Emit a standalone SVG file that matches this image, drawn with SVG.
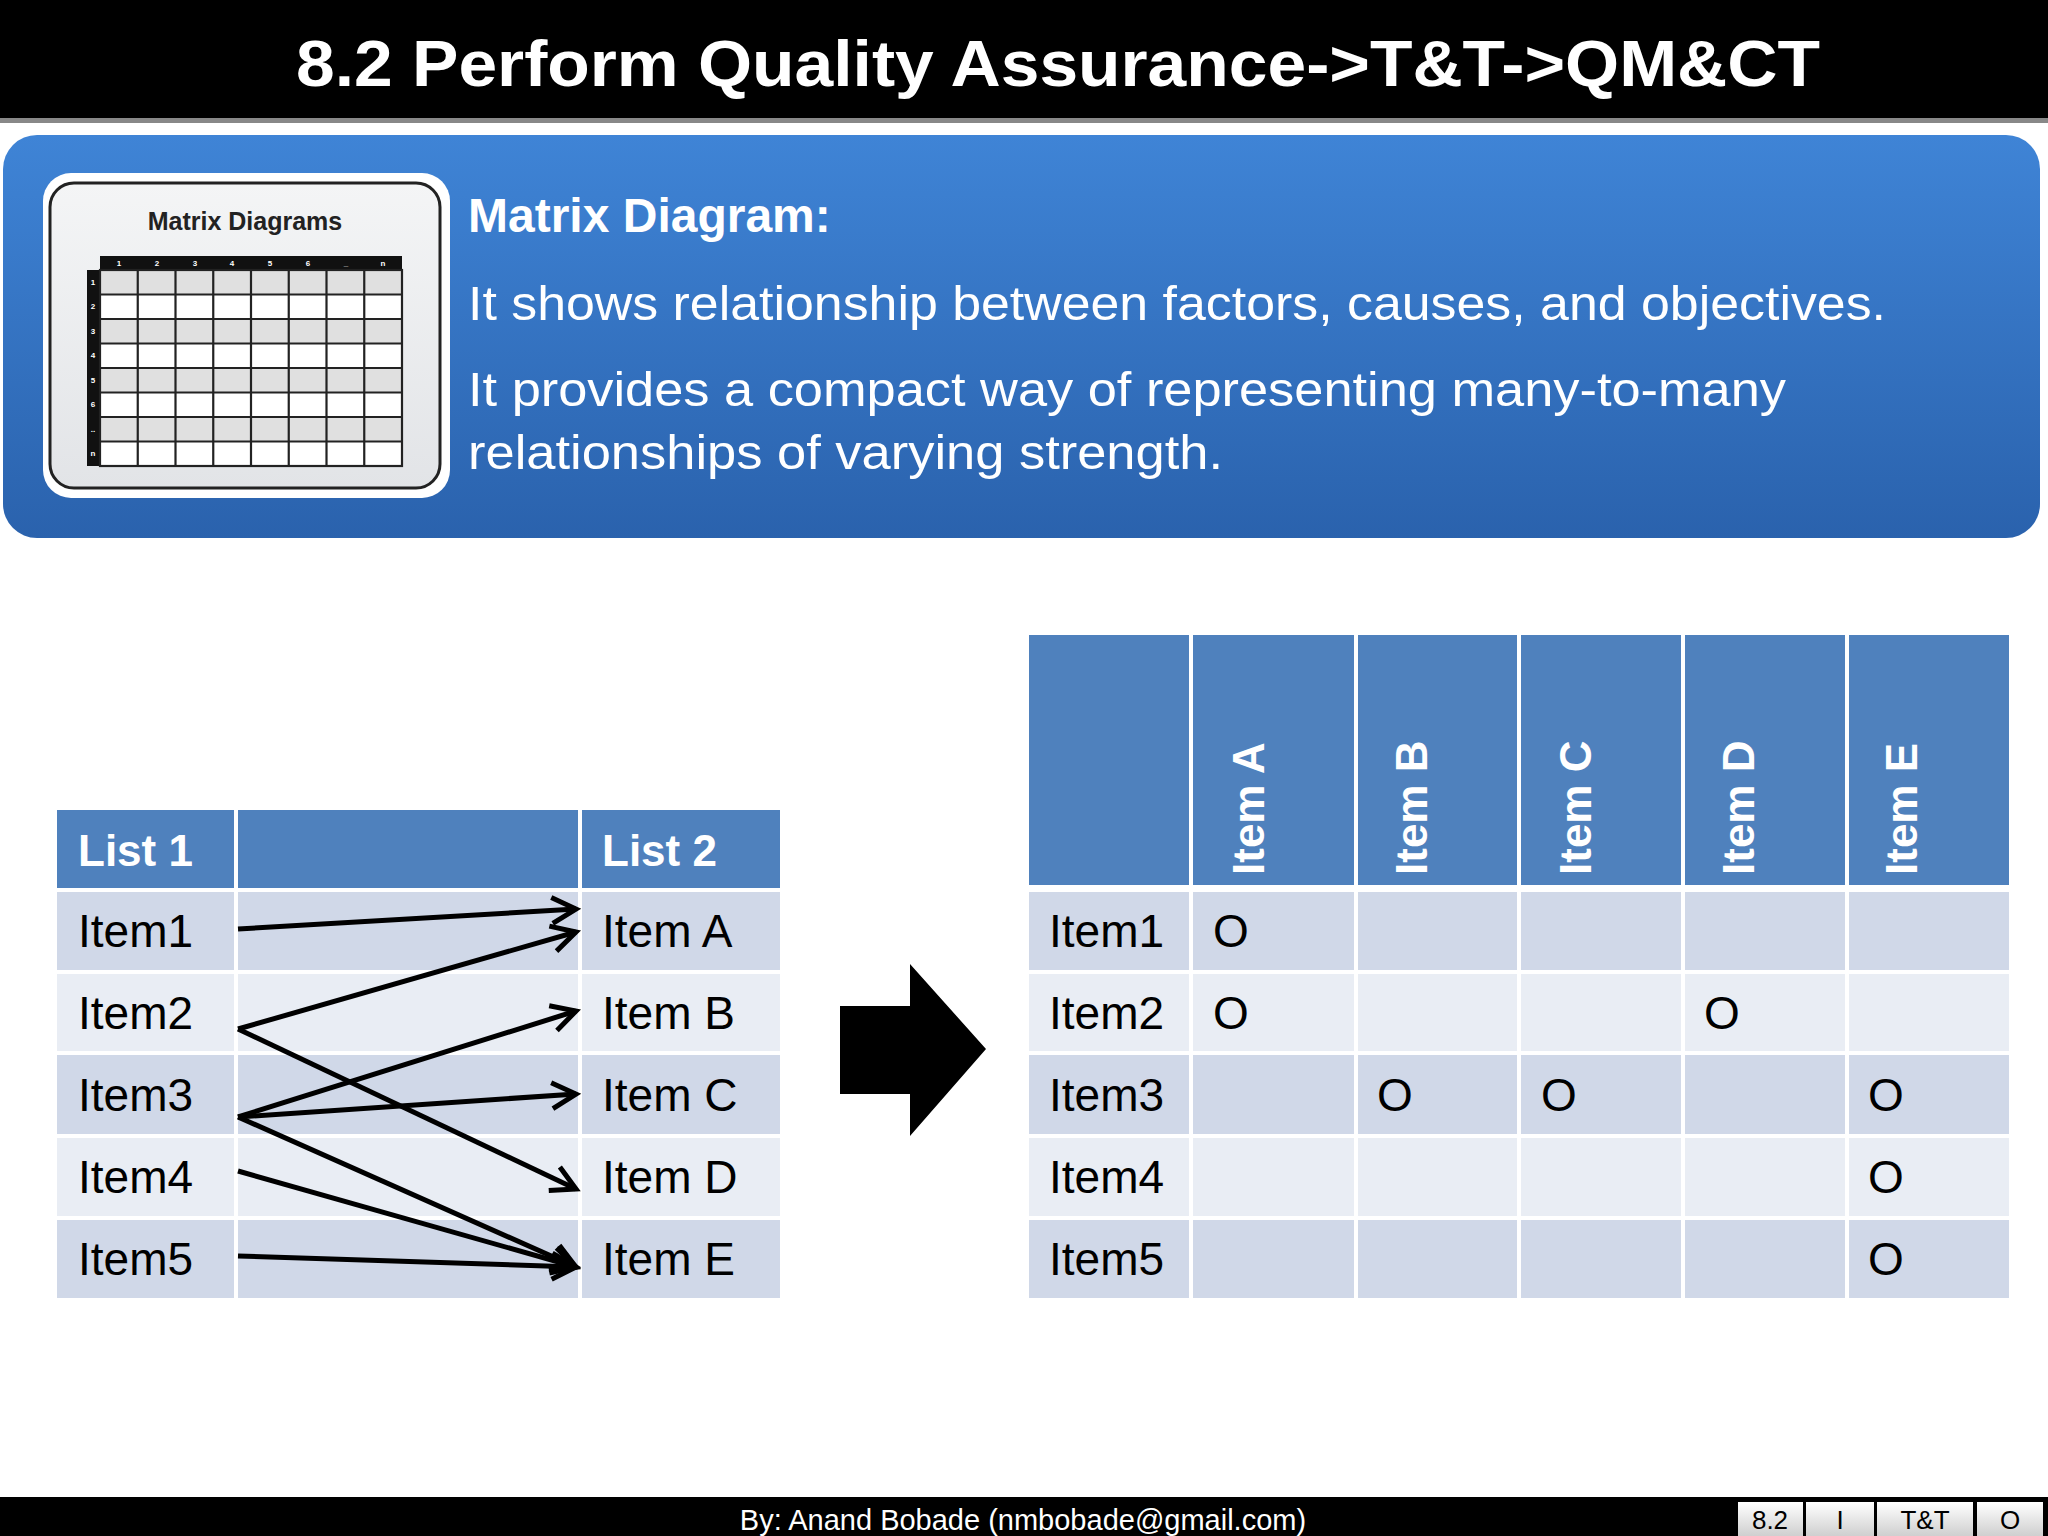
<svg xmlns="http://www.w3.org/2000/svg" width="2048" height="1536" viewBox="0 0 2048 1536">
<defs>
<linearGradient id="blue" x1="0" y1="0" x2="0" y2="1"><stop offset="0" stop-color="#3f84d6"/><stop offset="1" stop-color="#2a62ad"/></linearGradient>
<linearGradient id="gray" x1="0" y1="0" x2="0" y2="1"><stop offset="0" stop-color="#ffffff"/><stop offset="1" stop-color="#cfcfcf"/></linearGradient>
<linearGradient id="thumb" x1="0" y1="0" x2="0" y2="1"><stop offset="0" stop-color="#f4f5f6"/><stop offset="1" stop-color="#e2e4e7"/></linearGradient>
<marker id="ah" markerWidth="40" markerHeight="40" viewBox="-30 -20 40 40" refX="0" refY="0" orient="auto" markerUnits="userSpaceOnUse"><path d="M-24,-13 L0,0 L-24,13" fill="none" stroke="#000" stroke-width="5"/></marker>
<style>
text{font-family:"Liberation Sans",Arial,sans-serif}
.hdr{fill:#4f81bd}
.r1{fill:#d0d8e8}
.r2{fill:#e9edf4}
.it{font-size:46px;fill:#000}
.hb{font-size:44px;font-weight:bold;fill:#fff}
.con line{stroke:#000;stroke-width:5}
</style>
</defs>
<rect width="2048" height="1536" fill="#fff"/>
<g id="title"><rect x="0" y="0" width="2048" height="118" fill="#000"/><rect x="0" y="118" width="2048" height="5" fill="#888"/>
<text x="1058" y="86" text-anchor="middle" font-size="64" font-weight="bold" fill="#fff" textLength="1524" lengthAdjust="spacingAndGlyphs">8.2 Perform Quality Assurance-&gt;T&amp;T-&gt;QM&amp;CT</text></g>
<g id="panel"><rect x="3" y="135" width="2037" height="403" rx="34" fill="url(#blue)"/>
<text x="468" y="232" font-size="48" font-weight="bold" fill="#fff">Matrix Diagram:</text>
<text x="468" y="320" font-size="48" fill="#fff" textLength="1418" lengthAdjust="spacingAndGlyphs">It shows relationship between factors, causes, and objectives.</text>
<text x="468" y="406" font-size="48" fill="#fff" textLength="1318" lengthAdjust="spacingAndGlyphs">It provides a compact way of representing many-to-many</text>
<text x="468" y="469" font-size="48" fill="#fff" textLength="755" lengthAdjust="spacingAndGlyphs">relationships of varying strength.</text></g>
<g id="thumbnail"><rect x="43" y="173" width="407" height="325" rx="28" fill="#fff"/>
<rect x="50" y="183" width="390" height="305" rx="24" fill="url(#thumb)" stroke="#222" stroke-width="3"/>
<text x="245" y="230" text-anchor="middle" font-size="25" font-weight="bold" fill="#222">Matrix Diagrams</text>
<rect x="100" y="256" width="302" height="14" fill="#111"/><rect x="87" y="270" width="13" height="196" fill="#111"/>
<rect x="100" y="270" width="302" height="196" fill="#fff"/>
<g fill="#e0e0e0"><rect x="100" y="270" width="302" height="24.5"/><rect x="100" y="319" width="302" height="24.5"/><rect x="100" y="368" width="302" height="24.5"/><rect x="100" y="417" width="302" height="24.5"/></g>
<g stroke="#222" stroke-width="2.2" fill="none"><rect x="100" y="270" width="302" height="196"/>
<path d="M100,294.5H402M100,319H402M100,343.5H402M100,368H402M100,392.5H402M100,417H402M100,441.5H402M137.75,270V466M175.5,270V466M213.25,270V466M251,270V466M288.75,270V466M326.5,270V466M364.25,270V466"/></g>
<g font-size="8" font-weight="bold" fill="#fff" text-anchor="middle"><text x="119" y="266">1</text><text x="157" y="266">2</text><text x="195" y="266">3</text><text x="232" y="266">4</text><text x="270" y="266">5</text><text x="308" y="266">6</text><text x="346" y="266">_</text><text x="383" y="266">n</text>
<text x="93" y="285">1</text><text x="93" y="309">2</text><text x="93" y="334">3</text><text x="93" y="358">4</text><text x="93" y="383">5</text><text x="93" y="407">6</text><text x="93" y="432">..</text><text x="93" y="456">n</text></g></g>
<g id="list-table">
<rect class="hdr" x="57" y="810" width="177" height="78"/><rect class="hdr" x="238" y="810" width="340" height="78"/><rect class="hdr" x="582" y="810" width="198" height="78"/>
<g class="r1"><rect x="57" y="892" width="177" height="78"/><rect x="238" y="892" width="340" height="78"/><rect x="582" y="892" width="198" height="78"/>
<rect x="57" y="1055" width="177" height="79"/><rect x="238" y="1055" width="340" height="79"/><rect x="582" y="1055" width="198" height="79"/>
<rect x="57" y="1220" width="177" height="78"/><rect x="238" y="1220" width="340" height="78"/><rect x="582" y="1220" width="198" height="78"/></g>
<g class="r2"><rect x="57" y="974" width="177" height="77"/><rect x="238" y="974" width="340" height="77"/><rect x="582" y="974" width="198" height="77"/>
<rect x="57" y="1138" width="177" height="78"/><rect x="238" y="1138" width="340" height="78"/><rect x="582" y="1138" width="198" height="78"/></g>
<text class="hb" x="78" y="866">List 1</text><text class="hb" x="602" y="866">List 2</text>
<text class="it" x="78" y="947">Item1</text><text class="it" x="78" y="1029">Item2</text><text class="it" x="78" y="1111">Item3</text><text class="it" x="78" y="1193">Item4</text><text class="it" x="78" y="1275">Item5</text>
<text class="it" x="602" y="947">Item A</text><text class="it" x="602" y="1029">Item B</text><text class="it" x="602" y="1111">Item C</text><text class="it" x="602" y="1193">Item D</text><text class="it" x="602" y="1275">Item E</text></g>
<g id="connectors" class="con">
<line x1="238" y1="929" x2="576" y2="909" marker-end="url(#ah)"/>
<line x1="238" y1="1029" x2="576" y2="932" marker-end="url(#ah)"/>
<line x1="238" y1="1029" x2="576" y2="1189" marker-end="url(#ah)"/>
<line x1="238" y1="1117" x2="576" y2="1011" marker-end="url(#ah)"/>
<line x1="238" y1="1117" x2="576" y2="1094" marker-end="url(#ah)"/>
<line x1="238" y1="1117" x2="576" y2="1267" marker-end="url(#ah)"/>
<line x1="238" y1="1171" x2="576" y2="1267" marker-end="url(#ah)"/>
<line x1="238" y1="1256" x2="576" y2="1267" marker-end="url(#ah)"/>
</g>
<g id="big-arrow"><polygon points="840,1006 910,1006 910,964 986,1049 910,1136 910,1094 840,1094" fill="#000"/></g>
<g id="matrix">
<g class="hdr"><rect x="1029" y="635" width="160" height="250"/><rect x="1193" y="635" width="161" height="250"/><rect x="1358" y="635" width="159" height="250"/><rect x="1521" y="635" width="160" height="250"/><rect x="1685" y="635" width="160" height="250"/><rect x="1849" y="635" width="160" height="250"/></g>
<g class="r1"><rect x="1029" y="892" width="980" height="78"/><rect x="1029" y="1055" width="980" height="79"/><rect x="1029" y="1220" width="980" height="78"/></g>
<g class="r2"><rect x="1029" y="974" width="980" height="77"/><rect x="1029" y="1138" width="980" height="78"/></g>
<g stroke="#fff" stroke-width="4"><path d="M1191,635V1298M1356,635V1298M1519,635V1298M1683,635V1298M1847,635V1298"/></g>
<g class="hb"><text transform="translate(1264,875) rotate(-90)">Item A</text><text transform="translate(1427,875) rotate(-90)">Item B</text><text transform="translate(1591,875) rotate(-90)">Item C</text><text transform="translate(1754,875) rotate(-90)">Item D</text><text transform="translate(1917,875) rotate(-90)">Item E</text></g>
<text class="it" x="1049" y="947">Item1</text><text class="it" x="1049" y="1029">Item2</text><text class="it" x="1049" y="1111">Item3</text><text class="it" x="1049" y="1193">Item4</text><text class="it" x="1049" y="1275">Item5</text>
<g class="it"><text x="1213" y="947">O</text><text x="1213" y="1029">O</text><text x="1704" y="1029">O</text><text x="1377" y="1111">O</text><text x="1541" y="1111">O</text><text x="1868" y="1111">O</text><text x="1868" y="1193">O</text><text x="1868" y="1275">O</text></g></g>
<g id="footer"><rect x="0" y="1497" width="2048" height="39" fill="#000"/>
<text x="1023" y="1530" text-anchor="middle" font-size="29" fill="#fff">By: Anand Bobade (nmbobade@gmail.com)</text>
<g fill="url(#gray)"><rect x="1738" y="1502" width="65" height="34"/><rect x="1806" y="1502" width="68" height="34"/><rect x="1877" y="1502" width="96" height="34"/><rect x="1977" y="1502" width="66" height="34"/></g>
<g font-size="26" fill="#000" text-anchor="middle"><text x="1770" y="1529">8.2</text><text x="1840" y="1529">I</text><text x="1925" y="1529">T&amp;T</text><text x="2010" y="1529">O</text></g></g>
</svg>
